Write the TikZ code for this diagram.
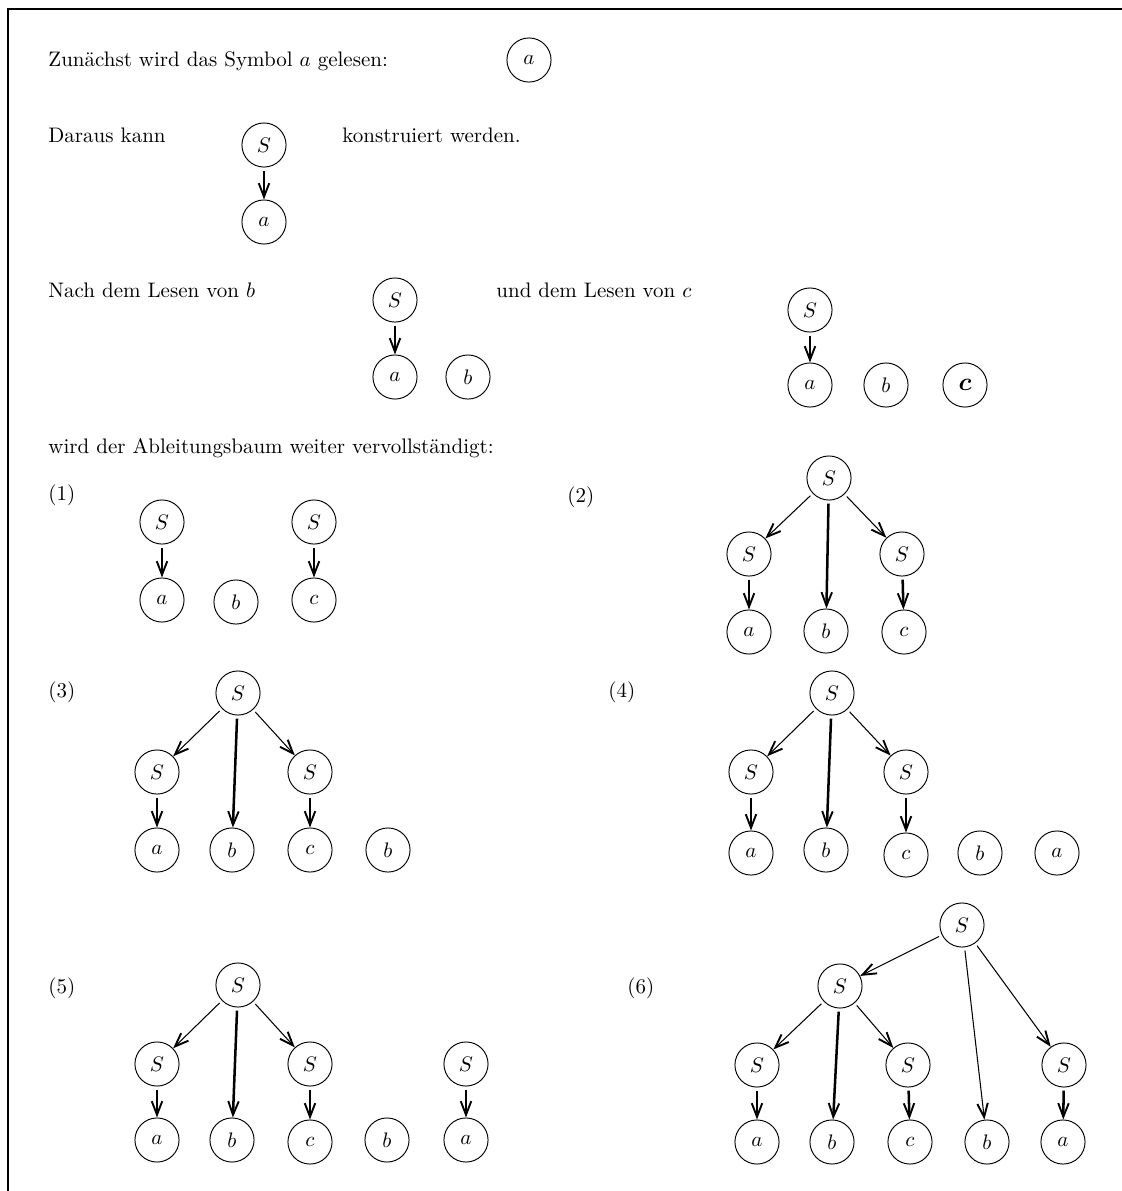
\documentclass[tikz,border=0pt]{standalone}
\usetikzlibrary{arrows.meta, positioning}
\tikzset{
  sym/.style={draw, circle, minimum size=21pt, inner sep=0pt, line width=0.45pt},
  txt/.style={anchor=base west, inner sep=0pt},
  tip/.style={-{Straight Barb[length=6.5pt, width=5pt, line width=0.9pt]}, shorten <=1.5pt},
  stem/.style={tip, line width=1.2pt},
  slant/.style={tip, line width=0.5pt},
  frame/.style={line width=1.4pt, line join=miter},
}

\begin{document}
\begin{tikzpicture}[x=0.476pt, y=-0.476pt]
  \useasboundingbox (0,0) rectangle (1122,1191);
  \draw[frame] (8,1191) -- (8,9) -- (1122,9);

  % reading the input symbol by symbol
  \node[txt] (zun) at (48,66) {Zunächst wird das Symbol $a$ gelesen:};
  \node[sym] (r1a) at (529,60) {$a$};

  \node[txt] (dar) at (48,142) {Daraus kann};
  \node[sym] (r2S) at (264,145) {$S$};
  \node[sym] (r2a) at (264,222) {$a$};
  \node[txt] (kon) at (342,142) {konstruiert werden.};
  \draw[stem] (r2S) -- (r2a);

  \node[txt] (nach) at (48,297) {Nach dem Lesen von $b$};
  \node[sym] (r3S) at (395,300) {$S$};
  \node[sym] (r3a) at (395,377) {$a$};
  \node[sym] (r3b) at (468,377) {$b$};
  \draw[stem] (r3S) -- (r3a);

  \node[txt] (und) at (496,297) {und dem Lesen von $c$};
  \node[sym] (r4S) at (810,310) {$S$};
  \node[sym] (r4a) at (810,385) {$a$};
  \node[sym] (r4b) at (886,385) {$b$};
  \node[sym, font=\large\boldmath] (r4c) at (965,385) {$c$};
  \draw[stem] (r4S) -- (r4a);

  \node[txt] (wird) at (48,453) {wird der Ableitungsbaum weiter vervollständigt:};

  % (1)
  \node[txt] (l1) at (48,500) {(1)};
  \foreach \n/\x/\y/\l in {p1S/162/522/S, p1a/162/600/a, p1b/236/602/b, p1T/314/522/S, p1c/314/600/c}
    \node[sym] (\n) at (\x,\y) {$\l$};
  \foreach \s/\t in {p1S/p1a, p1T/p1c}
    \draw[stem] (\s) -- (\t);

  % (2)
  \node[txt] (l2) at (567,502) {(2)};
  \foreach \n/\x/\y/\l in {p2S/829/478/S, p2L/749/554/S, p2R/902/554/S,
                           p2a/749/632/a, p2b/826/631/b, p2c/904/632/c}
    \node[sym] (\n) at (\x,\y) {$\l$};
  \foreach \s/\t in {p2S/p2L, p2S/p2R}
    \draw[slant] (\s) -- (\t);
  \foreach \s/\t in {p2S/p2b, p2L/p2a, p2R/p2c}
    \draw[stem] (\s) -- (\t);

  % (3)
  \node[txt] (l3) at (48,697) {(3)};
  \foreach \n/\x/\y/\l in {p3S/238/693/S, p3L/157/772/S, p3R/310/772/S,
                           p3a/157/850/a, p3b/232/850/b, p3c/310/850/c, p3d/388/850/b}
    \node[sym] (\n) at (\x,\y) {$\l$};
  \foreach \s/\t in {p3S/p3L, p3S/p3R}
    \draw[slant] (\s) -- (\t);
  \foreach \s/\t in {p3S/p3b, p3L/p3a, p3R/p3c}
    \draw[stem] (\s) -- (\t);

  % (4)
  \node[txt] (l4) at (608,697) {(4)};
  \foreach \n/\x/\y/\l in {p4S/832/693/S, p4L/751/772/S, p4R/906/772/S,
                           p4a/751/853/a, p4b/826/850/b, p4c/906/855/c, p4d/980/853/b, p4e/1057/853/a}
    \node[sym] (\n) at (\x,\y) {$\l$};
  \foreach \s/\t in {p4S/p4L, p4S/p4R}
    \draw[slant] (\s) -- (\t);
  \foreach \s/\t in {p4S/p4b, p4L/p4a, p4R/p4c}
    \draw[stem] (\s) -- (\t);

  % (5)
  \node[txt] (l5) at (48,993) {(5)};
  \foreach \n/\x/\y/\l in {p5S/238/985/S, p5L/157/1064/S, p5R/310/1064/S, p5T/466/1064/S,
                           p5a/157/1140/a, p5b/232/1140/b, p5c/310/1142/c, p5d/387/1140/b, p5e/466/1140/a}
    \node[sym] (\n) at (\x,\y) {$\l$};
  \foreach \s/\t in {p5S/p5L, p5S/p5R}
    \draw[slant] (\s) -- (\t);
  \foreach \s/\t in {p5S/p5b, p5L/p5a, p5R/p5c, p5T/p5e}
    \draw[stem] (\s) -- (\t);

  % (6)
  \node[txt] (l6) at (627,993) {(6)};
  \foreach \n/\x/\y/\l in {p6W/962/925/S, p6S/840/986/S, p6L/757/1065/S, p6R/908/1065/S, p6T/1064/1065/S,
                           p6a/757/1142/a, p6b/832/1142/b, p6c/910/1142/c, p6d/987/1142/b, p6e/1063/1142/a}
    \node[sym] (\n) at (\x,\y) {$\l$};
  \foreach \s/\t in {p6W/p6S, p6W/p6d, p6W/p6T, p6S/p6L, p6S/p6R}
    \draw[slant] (\s) -- (\t);
  \foreach \s/\t in {p6S/p6b, p6L/p6a, p6R/p6c, p6T/p6e}
    \draw[stem] (\s) -- (\t);
\end{tikzpicture}
\end{document}
